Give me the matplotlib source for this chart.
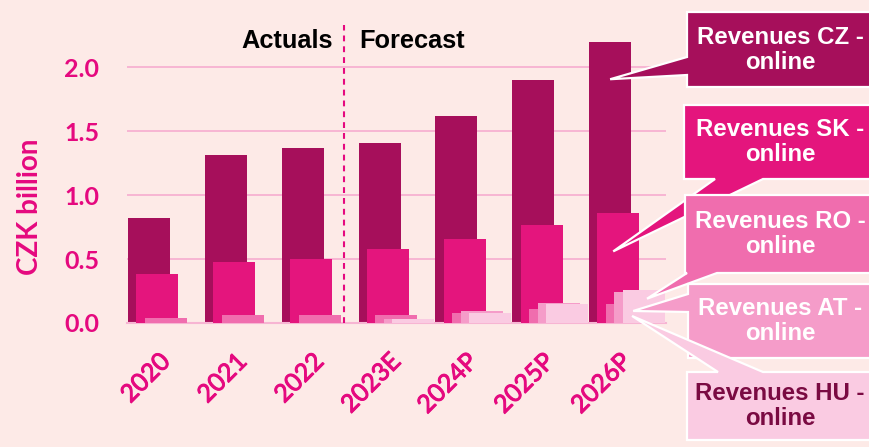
import matplotlib.pyplot as plt
import matplotlib.patheffects as pe
import numpy as np
from matplotlib.patches import Polygon
from matplotlib.transforms import ScaledTranslation

years = ["2020", "2021", "2022", "2023E", "2024P", "2025P", "2026P"]
rev_cz = [0.82, 1.31, 1.37, 1.41, 1.62, 1.90, 2.20]
rev_sk = [0.38, 0.48, 0.50, 0.58, 0.66, 0.77, 0.86]
rev_ro = [0.04, 0.06, 0.06, 0.06, 0.08, 0.11, 0.15]
rev_at = [0.00, 0.00, 0.00, 0.03, 0.09, 0.16, 0.24]
rev_hu = [0.00, 0.00, 0.00, 0.03, 0.08, 0.15, 0.26]
series = [rev_cz, rev_sk, rev_ro, rev_at, rev_hu]
countries = ["CZ", "SK", "RO", "AT", "HU"]
colors = ["#a60f5b", "#e4157d", "#f06dae", "#f59cc9", "#facbe2"]

BG = "#fdeae7"
PINK = "#e5097f"
GRID = "#f7b5d3"
W, H = 869, 447

fig = plt.figure(figsize=(W / 100, H / 100), dpi=100)
fig.patch.set_facecolor(BG)
ax = fig.add_axes([127 / W, 1 - 323 / H, 539 / W, 298 / H])
ax.set_facecolor(BG)

x = np.arange(len(years))
width = 0.547
step = 0.11
for k, (vals, c) in enumerate(zip(series, colors)):
    ax.bar(x - 0.495 + k * step, vals, width=width, align="edge",
           color=c, linewidth=0, zorder=2 + k)

ax.set_xlim(-0.508, 6.507)
ax.set_ylim(0, 2.33)
ax.set_yticks([0, 0.5, 1.0, 1.5, 2.0])
ax.set_yticklabels(["0.0", "0.5", "1.0", "1.5", "2.0"])
ax.set_xticks(x)
ax.set_xticklabels(years)
ax.yaxis.grid(True, color=GRID, lw=1.4)
ax.set_axisbelow(True)
for s in ["left", "top", "right"]:
    ax.spines[s].set_visible(False)
ax.spines["bottom"].set_color(GRID)
ax.spines["bottom"].set_linewidth(1.5)
ax.tick_params(axis="y", length=0, pad=20, labelcolor=PINK, labelsize=18)
ax.tick_params(axis="x", length=0, pad=19, labelcolor=PINK, labelsize=18)
for lab in ax.get_yticklabels():
    lab.set_family("Lato")
    lab.set_fontweight("bold")
shift = ScaledTranslation(-8 / 100, 0, fig.dpi_scale_trans)
for lab in ax.get_xticklabels():
    lab.set_family("Lato")
    lab.set_fontweight("normal")
    lab.set_rotation(45)
    lab.set_ha("right")
    lab.set_rotation_mode("anchor")
    lab.set_transform(lab.get_transform() + shift)
    lab.set_path_effects([pe.withStroke(linewidth=0.7, foreground=PINK)])
ax.set_ylabel("CZK billion", color=PINK, fontsize=20, fontweight="bold",
              family="Lato")
ax.yaxis.set_label_coords(-0.156, 0.389)

# actuals / forecast divider
x_div = 2.32
ax.axvline(x_div, color=PINK, lw=1.5, linestyle=(0, (2.8, 2.4)), zorder=8)
ax.annotate("Actuals", xy=(x_div, 1), xycoords=("data", "axes fraction"),
            xytext=(-8.5, -16.5), textcoords="offset points", ha="right",
            va="baseline", fontsize=18.3, fontweight="bold",
            family="Liberation Sans", color="black")
ax.annotate("Forecast", xy=(x_div, 1), xycoords=("data", "axes fraction"),
            xytext=(10.5, -16.5), textcoords="offset points", ha="left",
            va="baseline", fontsize=18.3, fontweight="bold",
            family="Liberation Sans", color="black")


def fpx(p):
    return (p[0] / W, 1 - p[1] / H)


def callout(outline, tip, color, text, tcolor, center):
    tipf = fig.transFigure.inverted().transform(ax.transData.transform(tip))
    pts = [tipf if p is None else fpx(p) for p in outline]
    poly = Polygon(pts, closed=True, transform=fig.transFigure,
                   facecolor=color, edgecolor="white", lw=1.6)
    fig.add_artist(poly)
    fig.text(center[0] / W, 1 - center[1] / H, text, ha="center", va="center",
             multialignment="center", fontsize=17.3, fontweight="bold",
             family="Liberation Sans", color=tcolor, linespacing=1.1)


# callout outlines (pixel layout), None marks the pointer tip
outlines = [
    [(687, 12), (876, 12), (876, 87), (687, 87), (687, 75), None, (687, 57)],
    [(684, 105), (876, 105), (876, 179), (763, 179), None, (715, 179), (684, 179)],
    [(685, 195), (876, 195), (876, 273), (717, 273), None, (687, 273), (685, 273)],
    [(688, 284), (876, 284), (876, 358), (688, 358), (688, 312), None, (688, 294)],
    [(687, 372), (718, 372), None, (763, 372), (876, 372), (876, 440), (687, 440)],
]
tips = [(5.78, 1.906), (5.82, 0.56), (6.26, 0.19), (6.08, 0.094), (6.065, 0.055)]
centers = [(780, 50), (780, 142), (780, 234), (780, 321), (780, 406)]
text_colors = ["white", "white", "white", "white", "#7a0a42"]

for name, outline, tip, c, tc, cen in zip(countries, outlines, tips, colors,
                                          text_colors, centers):
    callout(outline, tip, c, "Revenues " + name + " -\nonline", tc, cen)

fig.savefig("out.png", dpi=100, facecolor=BG)
